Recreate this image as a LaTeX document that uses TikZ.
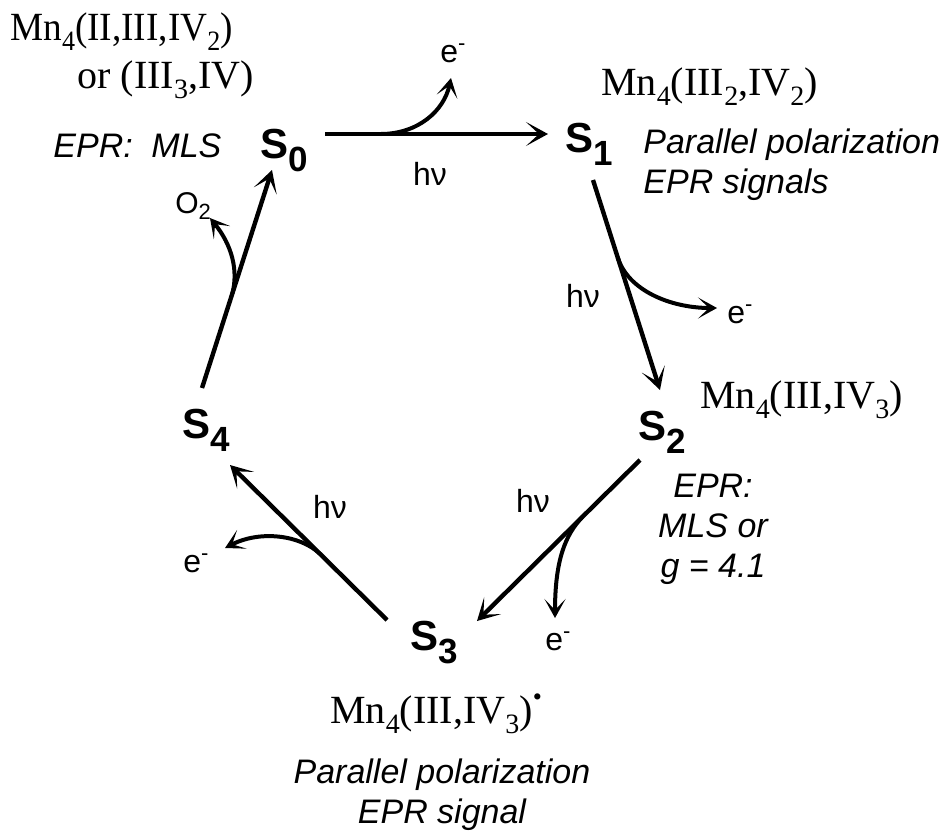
\documentclass[tikz,border=0pt]{standalone}
\usepackage{fontspec}
\setmainfont{Liberation Serif}
\setsansfont{Liberation Sans}
\usetikzlibrary{arrows.meta,calc}
\newcommand{\Slab}[1]{{\sffamily\bfseries\fontsize{21}{21}\selectfont S\raisebox{-6.5pt}{\fontsize{17.5}{17.5}\selectfont #1}}}
\newcommand{\msb}[1]{\raisebox{-5pt}{\fontsize{14}{14}\selectfont #1}}
\newcommand{\elec}{e\raisebox{6pt}{\fontsize{11}{11}\selectfont -}}
\begin{document}
\begin{tikzpicture}[x=0.5pt,y=-0.5pt,
  sl/.style={inner sep=0pt, anchor=base west},
  conn/.style={line width=2.2pt, -{Stealth[length=11pt,width=12pt,inset=6.5pt]}},
  branch/.style={line width=2pt, -{Stealth[length=9.5pt,width=10.5pt,inset=5.5pt]}},
  lbl/.style={font=\sffamily\fontsize{16}{16}\selectfont, inner sep=0pt},
  ser/.style={font=\fontsize{20}{20}\selectfont, inner sep=0pt, anchor=base west},
  itl/.style={font=\sffamily\itshape\fontsize{17}{17}\selectfont, inner sep=0pt}
]
\useasboundingbox (0,0) rectangle (948,831);

% states
\node[sl] (s0) at (260,158) {\Slab{0}};
\node[sl] (s1) at (565,152) {\Slab{1}};
\node[sl] (s2) at (638,440) {\Slab{2}};
\node[sl] (s3) at (410,650) {\Slab{3}};
\node[sl] (s4) at (182,438) {\Slab{4}};

% arrow end points relative to the states
\coordinate (a1s) at ($(s0.base west)+(65,-24)$);
\coordinate (a1e) at ($(s1.base west)+(-17,-18)$);
\coordinate (a2s) at ($(s1.base west)+(28,28)$);
\coordinate (a2e) at ($(s2.base west)+(22,-50)$);
\coordinate (a3s) at ($(s2.base west)+(2,20)$);
\coordinate (a3e) at ($(s3.base west)+(67,-29)$);
\coordinate (a4s) at ($(s3.base west)+(-23,-30)$);
\coordinate (a4e) at ($(s4.base west)+(48,27)$);
\coordinate (a5s) at ($(s4.base west)+(20,-50)$);
\coordinate (a5e) at ($(s0.base west)+(12,12)$);

% labels
\node[lbl, anchor=base west] (e1) at (440,62) {\elec};
\node[lbl, anchor=base] (h1) at (430,185) {hν};
\node[lbl, anchor=base] (h2) at (583,307) {hν};
\node[lbl, anchor=base west] (e2) at (727,323) {\elec};
\node[lbl, anchor=base] (h3) at (533,512) {hν};
\node[lbl, anchor=base west] (e3) at (545,650) {\elec};
\node[lbl, anchor=base] (h4) at (330,518) {hν};
\node[lbl, anchor=base west] (e4) at (183,572) {\elec};
\node[inner sep=0pt, anchor=base west, font=\sffamily\fontsize{15}{15}\selectfont] (o2) at (175,213) {O\raisebox{-3pt}{\fontsize{11}{11}\selectfont 2}};

% branch tips
\coordinate (t1) at (451,78);
\coordinate (t2) at (717,308);
\coordinate (t3) at (555,618);
\coordinate (t4) at (225,548);
\coordinate (t5) at (210,218);

% main arrows
\draw[conn] (a1s) -- (a1e) coordinate[pos=0.25] (b1);
\draw[conn] (a2s) -- (a2e) coordinate[pos=0.367] (b2);
\draw[conn] (a3s) -- (a3e) coordinate[pos=0.354] (b3);
\draw[conn] (a4s) -- (a4e) coordinate[pos=0.427] (b4);
\draw[conn] (a5s) -- (a5e) coordinate[pos=0.434] (b5);

% branch arrows
\draw[branch] (b1) .. controls +(37,0) and +(-7,33) .. (t1);
\draw[branch] (b2) .. controls +(10,33) and +(-47,0) .. (t2);
\draw[branch] (b3) .. controls +(-17,18) and +(0,-58) .. (t3);
\draw[branch] (b4) .. controls +(-20,-19) and +(35,-18) .. (t4);
\draw[branch] (b5) .. controls +(6,-23) and +(22,27) .. (t5);

% oxidation states
\node[ser] (m0a) at (10,40) {\scalebox{0.93}[1]{Mn\msb{4}(II,III,IV\msb{2})}};
\node[ser] (m0b) at (77,88) {or (III\msb{3},IV)};
\node[ser] (m1) at (601,95) {Mn\msb{4}(III\msb{2},IV\msb{2})};
\node[ser] (m2) at (700,408) {Mn\msb{4}(III,IV\msb{3})};
\node[ser] (m3) at (330,723) {Mn\msb{4}(III,IV\msb{3})\raisebox{9pt}{\fontsize{13}{13}\selectfont •}};

% EPR notes
\node[itl, anchor=base west] (p0) at (53,157) {EPR:\hspace{0.55em}MLS};
\node[itl, anchor=base west] (p1a) at (643,153) {Parallel polarization};
\node[itl, anchor=base west] (p1b) at (643,193) {EPR signals};
\node[itl, anchor=base] (p2a) at (713,497) {EPR:};
\node[itl, anchor=base] (p2b) at (713,537) {MLS or};
\node[itl, anchor=base] (p2c) at (713,577) {g = 4.1};
\node[itl, anchor=base] (p3a) at (442,783) {Parallel polarization};
\node[itl, anchor=base] (p3b) at (442,823) {EPR signal};
\end{tikzpicture}
\end{document}
